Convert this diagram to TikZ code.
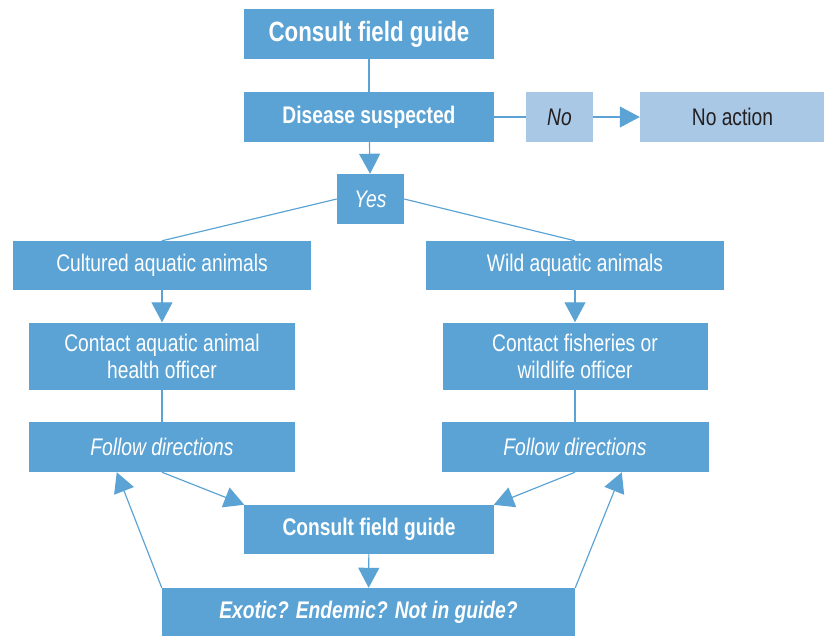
\documentclass[tikz,border=0pt]{standalone}
\usepackage{xcolor}
\usepackage{fontspec}
\setmainfont{Liberation Sans}[FakeStretch=0.80]
\usepackage{tikz}
\usetikzlibrary{arrows.meta}
\definecolor{fishblue}{RGB}{91,163,212}
\definecolor{paleblue}{RGB}{169,200,230}
\definecolor{inkgrey}{RGB}{35,31,32}

\begin{document}
\begin{tikzpicture}[x=0.03cm,y=-0.03cm]
      \tikzstyle{box}=[rectangle,fill=fishblue,text=white,inner sep=0pt,align=center,
        font=\fontsize{20.5}{23}\selectfont,minimum height=1.47cm]
      \tikzstyle{pale}=[box,fill=paleblue,text=inkgrey]
      \tikzstyle{link}=[draw=fishblue,line width=1pt]
      \tikzstyle{arrow}=[link,-{Triangle[length=0.6cm,width=0.63cm]}]
      \useasboundingbox (0,0) rectangle (824,636);
      \node[box,minimum width=7.5cm,minimum height=1.5cm,font=\fontsize{23.8}{26}\selectfont\bfseries] (guide) at (369, 34) {Consult field guide};
      \node[box,minimum width=7.5cm,minimum height=1.5cm,font=\fontsize{20.5}{23}\selectfont\bfseries] (disease) at (369, 117) {Disease suspected};
      \node[pale,minimum width=2.01cm,minimum height=1.5cm,font=\fontsize{20.5}{23}\selectfont\itshape] (no) at (559.5, 117) {No};
      \node[pale,minimum width=5.55cm,minimum height=1.5cm] (noaction) at (732.5, 117) {No action};
      \node[box,minimum width=2.01cm,minimum height=1.5cm,font=\fontsize{20.5}{23}\selectfont\itshape] (yes) at (370.5, 199) {Yes};
      \node[box,minimum width=8.94cm] (cultured) at (162, 265.5) {Cultured aquatic animals};
      \node[box,minimum width=8.94cm] (wild) at (575, 265.5) {Wild aquatic animals};
      \node[box,minimum width=7.98cm,minimum height=2.01cm] (contactvet) at (162, 356) {Contact aquatic animal\\health officer};
      \node[box,minimum width=7.95cm,minimum height=2.01cm] (contactwild) at (575, 356) {Contact fisheries or\\wildlife officer};
      \node[box,minimum width=7.98cm,minimum height=1.5cm,font=\fontsize{20.5}{23}\selectfont\itshape] (followvet) at (162, 447) {Follow directions};
      \node[box,minimum width=8.01cm,minimum height=1.5cm,font=\fontsize{20.5}{23}\selectfont\itshape] (followwild) at (575, 447) {Follow directions};
      \node[box,minimum width=7.47cm,font=\fontsize{20.5}{23}\selectfont\bfseries] (guidetwo) at (369, 529.5) {Consult field guide};
      \node[box,minimum width=12.39cm,minimum height=1.44cm,font=\fontsize{20.5}{23}\selectfont\bfseries\itshape] (exotic) at (368.5, 612) {Exotic? Endemic? Not in guide?};
      \draw[link] (guide) -- (disease);
      \draw[link] (disease) -- (no);
      \draw[arrow] (no) -- (noaction);
      \draw[arrow] (disease) -- (yes);
      \draw[link] (yes.west) -- (cultured.north);
      \draw[link] (yes.east) -- (wild.north);
      \draw[arrow] (cultured) -- (contactvet);
      \draw[arrow] (wild) -- (contactwild);
      \draw[link] (contactvet) -- (followvet);
      \draw[link] (contactwild) -- (followwild);
      \draw[arrow] (followvet.south) -- (guidetwo.north west);
      \draw[arrow] (followwild.south) -- (guidetwo.north east);
      \draw[arrow] (guidetwo) -- (exotic);
      \draw[arrow] (exotic.north west) -- ([xshift=2.64cm]followvet.south west);
      \draw[arrow] (exotic.north east) -- ([xshift=-2.61cm]followwild.south east);
    \end{tikzpicture}
\end{document}
